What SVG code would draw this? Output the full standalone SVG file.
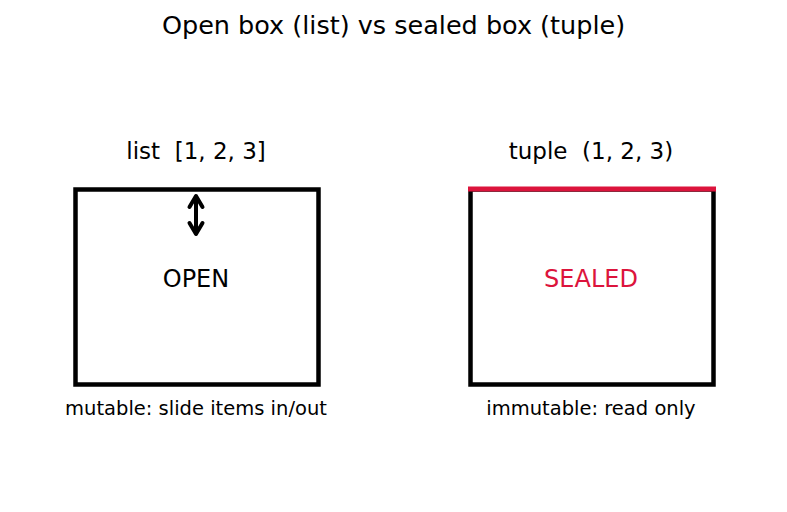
<svg xmlns="http://www.w3.org/2000/svg" width="787" height="512" viewBox="0 0 787 512">
<style>
text{font-family:"DejaVu Sans",sans-serif;text-anchor:middle;fill:#000;white-space:pre}
.t{font-size:25.5px}
.h{font-size:23px}
.c{font-size:24px}
.s{font-size:19.5px}
.box{fill:#fff;stroke:#000;stroke-width:4.5}
.red{fill:#DC143C}
</style>
<rect width="787" height="512" fill="#fff"/>
<text class="t" x="393.5" y="34">Open box (list) vs sealed box (tuple)</text>
<g id="list">
<text class="h" x="196" y="159" xml:space="preserve">list  [1, 2, 3]</text>
<rect class="box" x="75.5" y="189.5" width="243" height="195"/>
<text class="c" x="196" y="287">OPEN</text>
<text class="s" x="196" y="415">mutable: slide items in/out</text>
</g>
<g id="tuple">
<text class="h" x="591" y="159" xml:space="preserve">tuple  (1, 2, 3)</text>
<rect class="box" x="470.5" y="189.5" width="243" height="195"/>
<line x1="468" y1="189" x2="716" y2="189" stroke="#DC143C" stroke-width="5"/>
<text class="c red" x="591" y="287">SEALED</text>
<text class="s" x="591" y="415">immutable: read only</text>
</g>
<g id="connectors" fill="none" stroke="#000" stroke-width="4" stroke-linecap="round" stroke-linejoin="round">
<line x1="196" y1="198" x2="196" y2="232"/>
<polyline points="189.5,207 196,196 202.5,207"/>
<polyline points="189.5,223 196,234 202.5,223"/>
</g>
</svg>
